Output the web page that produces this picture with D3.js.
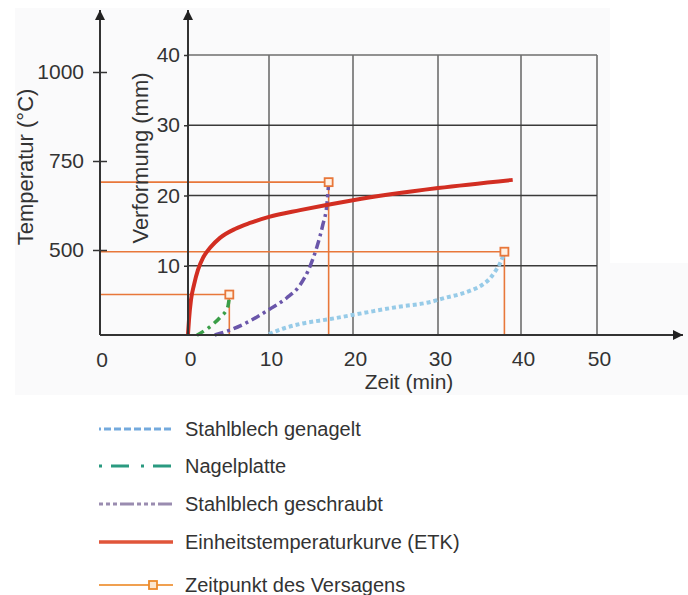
<!DOCTYPE html>
<html>
<head>
<meta charset="utf-8">
<script src="https://cdn.jsdelivr.net/npm/d3@7"></script>
<style>
  body { margin: 0; background: #fff; }
  text { font-family: "Liberation Sans", Arial, sans-serif; fill: #333; }
</style>
</head>
<body>
<svg id="chart" width="688" height="595"></svg>
<script>
// time axis (min)
const timeTicks = [0, 10, 20, 30, 40, 50];
const deformTicks = [10, 20, 30, 40];
const tempTicks = [500, 750, 1000];

// Einheitstemperaturkurve
const etkTime = [0, 0.12, 0.37, 0.74, 1.23, 1.85, 2.72, 3.95, 5.8, 7.65, 10, 13.7, 20, 30, 39];
const etkTemp = [264, 303, 360, 402, 444, 478, 506, 534, 559, 576, 593, 612, 640, 674, 697];

// Stahlblech genagelt (mm)
const genageltTime = [10, 11.9, 13.7, 17.3, 21.2, 25.2, 29.1, 30.8, 32.7, 34.1, 35.3, 36.3, 37.0, 37.5, 37.85];
const genageltMm = [0.28, 1.14, 1.71, 2.42, 3.27, 4.13, 4.84, 5.41, 5.98, 6.55, 7.26, 8.26, 9.4, 10.4, 11.4];

// Nagelplatte (mm)
const nagelTime = [1.1, 3.0, 4.0, 4.9, 5.1];
const nagelMm = [0.1, 1.6, 2.7, 4.1, 5.5];

// Stahlblech geschraubt (mm)
const geschraubtTime = [3.3, 5.2, 7.65, 10.1, 12.1, 13.7, 14.9, 15.7, 16.4, 16.9, 17.1];
const geschraubtMm = [0.14, 0.85, 2.14, 3.84, 5.41, 7.26, 9.96, 12.67, 15.8, 18.8, 21.8];

// Zeitpunkt des Versagens
const failTime = [5.1, 17.1, 38];
const failMm = [5.9, 21.9, 12.0];

const legendLabels = [
  "Stahlblech genagelt",
  "Nagelplatte",
  "Stahlblech geschraubt",
  "Einheitstemperaturkurve (ETK)",
  "Zeitpunkt des Versagens"
];

const zip = (a, b) => a.map((v, i) => [v, b[i]]);

const svg = d3.select("#chart");
const tempAxisX = 100, baseY = 335, axisTop = 10, arrowEnd = 683;
const font = "Liberation Sans, Arial, sans-serif";

const x = d3.scaleLinear().domain(timeTicks).range([188, 269, 353, 438, 521, 597]);
const yD = d3.scaleLinear().domain([0, 40]).range([336, 55]);
const yT = d3.scaleLinear().domain([500, 1000]).range([250, 72]);

// faint background panel
svg.append("rect").attr("x", 15).attr("y", 8).attr("width", 595).attr("height", 387).attr("fill", "#fafafb");
svg.append("rect").attr("x", 605).attr("y", 263).attr("width", 83).attr("height", 132).attr("fill", "#fafafb");

// grid
const grid = svg.append("g");
grid.selectAll(".v").data(timeTicks.slice(1)).join("line")
  .attr("x1", d => x(d)).attr("x2", d => x(d))
  .attr("y1", yD(0)).attr("y2", yD(40))
  .attr("stroke", "#6e6e6e").attr("stroke-width", 1.6);
grid.selectAll(".h").data(deformTicks).join("line")
  .attr("x1", x(0)).attr("x2", x(50))
  .attr("y1", d => yD(d)).attr("y2", d => yD(d))
  .attr("stroke", d => d === 40 ? "#6e6e6e" : "#3a3a3a").attr("stroke-width", 1.6);

// failure marker lines
const orange = "#e8773a";
const fail = zip(failTime, failMm);
svg.selectAll(".fh").data(fail).join("line")
  .attr("x1", tempAxisX).attr("x2", d => x(d[0]))
  .attr("y1", d => yD(d[1])).attr("y2", d => yD(d[1]))
  .attr("stroke", orange).attr("stroke-width", 1.6);
svg.selectAll(".fv").data(fail).join("line")
  .attr("x1", d => x(d[0])).attr("x2", d => x(d[0]))
  .attr("y1", d => yD(d[1])).attr("y2", baseY)
  .attr("stroke", orange).attr("stroke-width", 1.6);

// curves
const lineD = d3.line().x(d => x(d[0])).y(d => yD(d[1])).curve(d3.curveMonotoneX);
const lineT = d3.line().x(d => x(d[0])).y(d => yT(d[1])).curve(d3.curveMonotoneX);

svg.append("path").datum(zip(genageltTime, genageltMm)).attr("d", lineD)
  .attr("fill", "none").attr("stroke", "#97cbe8").attr("stroke-width", 4)
  .attr("stroke-dasharray", "4 3");
svg.append("path").datum(zip(nagelTime, nagelMm)).attr("d", lineD)
  .attr("fill", "none").attr("stroke", "#3a9e48").attr("stroke-width", 3.5)
  .attr("stroke-dasharray", "8 5 3 5");
svg.append("path").datum(zip(geschraubtTime, geschraubtMm)).attr("d", lineD)
  .attr("fill", "none").attr("stroke", "#6a56aa").attr("stroke-width", 3.5)
  .attr("stroke-dasharray", "9 4 3 4");
svg.append("path").datum(zip(etkTime, etkTemp)).attr("d", lineT)
  .attr("fill", "none").attr("stroke", "#d22e22").attr("stroke-width", 4);

svg.selectAll(".fs").data(fail).join("rect")
  .attr("x", d => x(d[0]) - 4).attr("y", d => yD(d[1]) - 4)
  .attr("width", 8).attr("height", 8)
  .attr("fill", "#fff1e4").attr("stroke", orange).attr("stroke-width", 1.8);

// axis lines with arrows
svg.append("defs").append("marker")
  .attr("id", "arrow").attr("viewBox", "0 0 10 10").attr("refX", 10).attr("refY", 5)
  .attr("markerWidth", 10).attr("markerHeight", 10).attr("markerUnits", "userSpaceOnUse")
  .attr("orient", "auto")
  .append("path").attr("d", "M0,0 L10,5 L0,10 Z").attr("fill", "#222");

const axisLine = (x1, y1, x2, y2) => svg.append("line")
  .attr("x1", x1).attr("y1", y1).attr("x2", x2).attr("y2", y2)
  .attr("stroke", "#333").attr("stroke-width", 2).attr("marker-end", "url(#arrow)");
axisLine(tempAxisX, baseY, tempAxisX, axisTop);
axisLine(x(0), baseY, x(0), axisTop);
axisLine(tempAxisX, baseY, arrowEnd, baseY);

// temperature axis
const gT = svg.append("g").attr("transform", `translate(${tempAxisX},0)`)
  .call(d3.axisLeft(yT).tickValues(tempTicks).tickFormat(d3.format("d")).tickSize(7).tickPadding(9));
gT.select(".domain").remove();
gT.selectAll(".tick line").attr("x1", 7).attr("stroke", "#333").attr("stroke-width", 1.5);
gT.selectAll(".tick text").attr("font-size", 21).attr("fill", "#333").attr("font-family", font);

// deformation axis
const gD = svg.append("g").attr("transform", `translate(${x(0)},0)`)
  .call(d3.axisLeft(yD).tickValues(deformTicks).tickSize(4).tickPadding(4));
gD.select(".domain").remove();
gD.selectAll(".tick line").attr("stroke", "#333").attr("stroke-width", 1.5);
gD.selectAll(".tick text").attr("font-size", 21).attr("fill", "#333").attr("font-family", font);

// time axis labels
const gX = svg.append("g").attr("transform", `translate(2,${baseY})`)
  .call(d3.axisBottom(x).tickValues(timeTicks).tickSize(0).tickPadding(16));
gX.select(".domain").remove();
gX.selectAll(".tick text").attr("font-size", 21).attr("fill", "#333").attr("font-family", font);
svg.append("text").attr("x", tempAxisX + 2).attr("y", 367).attr("text-anchor", "middle")
  .attr("font-size", 21).text("0");

svg.append("text").attr("x", 409).attr("y", 389).attr("text-anchor", "middle")
  .attr("font-size", 21).text("Zeit (min)");
svg.append("text").attr("transform", "translate(33,167) rotate(-90)").attr("text-anchor", "middle")
  .attr("font-size", 22).text("Temperatur (°C)");
svg.append("text").attr("transform", "translate(148,158) rotate(-90)").attr("text-anchor", "middle")
  .attr("font-size", 22).text("Verformung (mm)");

// legend
const legendY = [429, 466, 504, 542, 585];
const legendStyles = [
  { stroke: "#74aadd", width: 3, dash: "2 3 7 3 7 3 7 3 7 3 7 3 7 3 7" },
  { stroke: "#2a9a80", width: 3, dash: "3 9 18 12" },
  { stroke: "#9a8cb0", width: 3, dash: "4 3 4 3 4 3 14 3" },
  { stroke: "#e0553a", width: 3.5, dash: null },
  { stroke: "#f0a050", width: 2, dash: null }
];
const lg = svg.append("g");
legendLabels.forEach((label, i) => {
  const st = legendStyles[i];
  lg.append("line").attr("x1", 99).attr("x2", 173)
    .attr("y1", legendY[i]).attr("y2", legendY[i])
    .attr("stroke", st.stroke).attr("stroke-width", st.width)
    .attr("stroke-dasharray", st.dash);
  if (i === 4) {
    lg.append("rect").attr("x", 149).attr("y", legendY[i] - 4).attr("width", 8).attr("height", 8)
      .attr("fill", "#fbe6cf").attr("stroke", "#ec8a2c").attr("stroke-width", 1.8);
  }
  lg.append("text").attr("x", 185).attr("y", legendY[i] + 7)
    .attr("font-size", 20).text(label);
});
</script>
</body>
</html>
